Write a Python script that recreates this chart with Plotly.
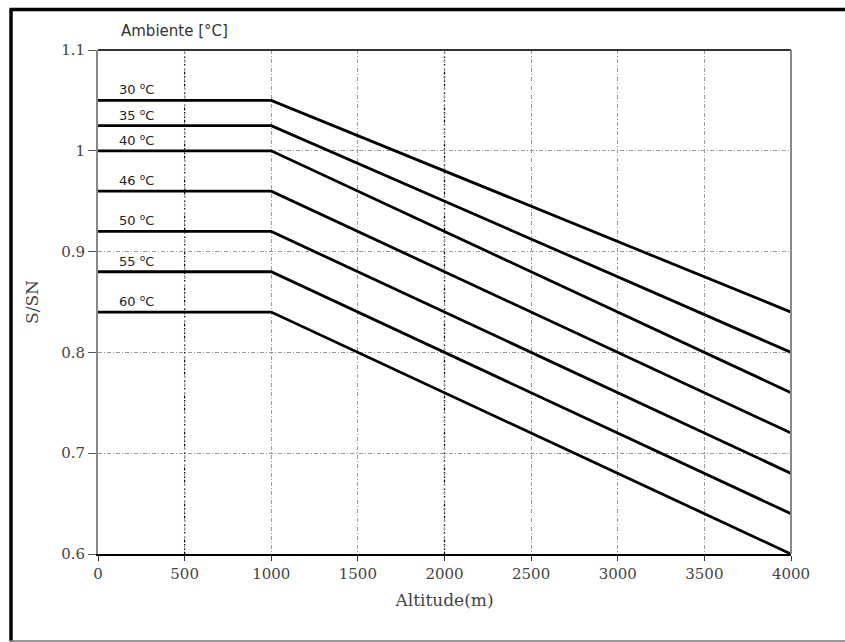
import plotly.graph_objects as go

# Data
temps = ["30", "35", "40", "46", "50", "55", "60"]
altitude = [0, 1000, 4000]
s_sn_flat = [1.05, 1.025, 1.0, 0.96, 0.92, 0.88, 0.84]
s_sn_4000 = [0.84, 0.80, 0.76, 0.72, 0.68, 0.64, 0.60]
x_ticks = [0, 500, 1000, 1500, 2000, 2500, 3000, 3500, 4000]
y_ticks = [0.6, 0.7, 0.8, 0.9, 1.0, 1.1]
y_tick_text = ["0.6", "0.7", "0.8", "0.9", "1", "1.1"]

W, H = 845, 642
ML, MT = 98, 50
PR, PB = 791, 554
MR, MB = W - PR, H - PB
PW, PH = PR - ML, PB - MT

def px_x(p):
    return (p - ML) / PW

def px_y(p):
    return (PB - p) / PH

fig = go.Figure()

for t, f, e in zip(temps, s_sn_flat, s_sn_4000):
    fig.add_trace(go.Scatter(
        x=altitude, y=[f, f, e], mode="lines",
        line=dict(color="black", width=2.8),
        showlegend=False, hoverinfo="skip",
    ))
    fig.add_annotation(
        x=110, y=f, xref="x", yref="y", text=f"{t} <sup>o</sup>C",
        showarrow=False, xanchor="left", yanchor="bottom", yshift=1,
        font=dict(family="DejaVu Sans", size=13, color="#222"),
    )

grid_dash = "4px,2px,1px,2px"

shapes = []
# darker dotted verticals at 500 and 2000
for xv in (500, 2000):
    shapes.append(dict(type="line", xref="x", yref="paper", x0=xv, x1=xv, y0=0, y1=1,
                       line=dict(color="#111", width=1.3, dash="2px,2px"), layer="below"))

# outer frame (left/top thick black, bottom grey)
shapes.append(dict(type="line", xref="paper", yref="paper",
                   x0=px_x(11), x1=px_x(11), y0=px_y(641), y1=px_y(9.5),
                   line=dict(color="black", width=3.5)))
shapes.append(dict(type="line", xref="paper", yref="paper",
                   x0=px_x(9.5), x1=px_x(850), y0=px_y(9.5), y1=px_y(9.5),
                   line=dict(color="black", width=3.5)))
shapes.append(dict(type="line", xref="paper", yref="paper",
                   x0=px_x(9.5), x1=px_x(850), y0=px_y(641), y1=px_y(641),
                   line=dict(color="#777", width=1.5)))
# top border of plot at 1.1 and right border at 4000
shapes.append(dict(type="line", xref="paper", yref="paper", x0=0, x1=1, y0=1, y1=1,
                   line=dict(color="#333", width=2)))
shapes.append(dict(type="line", xref="paper", yref="paper", x0=1, x1=1, y0=0, y1=1,
                   line=dict(color="#888", width=2)))

fig.update_layout(
    width=W, height=H,
    margin=dict(l=ML, r=MR, t=MT, b=MB),
    paper_bgcolor="white", plot_bgcolor="white",
    shapes=shapes,
    annotations=list(fig.layout.annotations) + [
        dict(x=px_x(119), y=px_y(31), xref="paper", yref="paper",
             text="Ambiente [°C]", showarrow=False, xanchor="left", yanchor="middle",
             font=dict(family="DejaVu Sans", size=15, color="#333")),
    ],
)

fig.update_xaxes(
    range=[0, 4000], tickvals=x_ticks, ticktext=[str(v) for v in x_ticks],
    showline=True, linecolor="black", linewidth=2,
    ticks="outside", ticklen=5, tickcolor="#333", tickwidth=1,
    showgrid=True, gridcolor="#999", gridwidth=1, griddash=grid_dash,
    zeroline=False,
    tickfont=dict(family="DejaVu Serif", size=15, color="#444"),
    title=dict(text="Altitude(m)", font=dict(family="DejaVu Serif", size=17, color="#444"),
               standoff=12),
)
fig.update_yaxes(
    range=[0.6, 1.1], tickvals=y_ticks, ticktext=y_tick_text,
    showline=True, linecolor="#888", linewidth=2,
    ticks="outside", ticklen=8, tickcolor="#555", tickwidth=1,
    showgrid=True, gridcolor="#999", gridwidth=1, griddash=grid_dash,
    zeroline=False,
    tickfont=dict(family="DejaVu Serif", size=15, color="#444"),
    title=dict(text="S/SN", font=dict(family="DejaVu Serif", size=17, color="#444"),
               standoff=18),
)

fig.write_html(
    "out.html",
    config={"displayModeBar": False},
    post_script="document.body.style.margin='0';document.body.style.overflow='hidden';",
)
